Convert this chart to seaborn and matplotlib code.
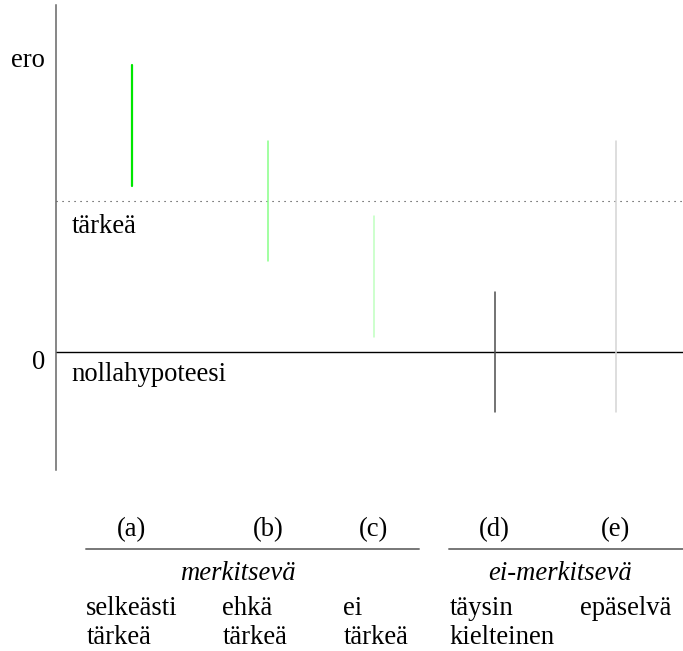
import numpy as np
import pandas as pd
import matplotlib
matplotlib.use("Agg")
import matplotlib.pyplot as plt
import seaborn as sns

# Confidence intervals of the difference for five cases
cases = ["(a)", "(b)", "(c)", "(d)", "(e)"]
case_x = [1.25, 3.5, 5.25, 7.25, 9.25]
lower = [1.1, 0.6, 0.1, -0.4, -0.4]
upper = [1.9, 1.4, 0.9, 0.4, 1.4]
interval_colors = ["#00e600", "#88ff88", "#c0ffc0", "#4d4d4d", "#d4d4d4"]
interval_widths = [1.6, 1.1, 1.1, 1.1, 1.1]

# Category descriptions under the plot
top_desc = ["selkeästi", "ehkä", "ei", "täysin", "epäselvä"]
bottom_desc = ["tärkeä", "tärkeä", "tärkeä", "kielteinen", ""]
groups = ["merkitsevä", "ei-merkitsevä"]

threshold = 1.0
threshold_label = "tärkeä"
null_label = "nollahypoteesi"
y_ticks = [0, 2]
y_tick_labels = ["0", "ero"]

df = pd.DataFrame({
    "case": np.repeat(cases, 2),
    "x": np.repeat(case_x, 2),
    "y": np.ravel(np.column_stack([lower, upper])),
})

sns.set_theme(style="white")
plt.rcParams["font.family"] = ["Liberation Serif", "DejaVu Serif"]
plt.rcParams["text.color"] = "black"
FS = 19.2

fig = plt.figure(figsize=(6.83, 6.51), dpi=100)
ax = fig.add_axes([56 / 683, 181 / 651, 627 / 683, 465 / 651])

sns.lineplot(data=df, x="x", y="y", hue="case", size="case",
             palette=dict(zip(cases, interval_colors)),
             sizes=dict(zip(cases, interval_widths)),
             estimator=None, sort=False, legend=False, ax=ax)

ax.set_xlim(0, 627 / 60.5)
ax.set_ylim(-118 / 151, 347 / 151)
ax.set_xlabel("")
ax.set_ylabel("")
ax.set_xticks([])
ax.set_yticks([])

for side in ["top", "right", "bottom"]:
    ax.spines[side].set_visible(False)
ax.spines["left"].set_color("#666666")
ax.spines["left"].set_linewidth(1.1)

# Null hypothesis and importance threshold
ax.axhline(0, color="black", lw=1.0, zorder=1)
ax.axhline(threshold, color="#333333", lw=0.8, linestyle=(0, (1, 4.4)), zorder=1)
ax.text(0.26, threshold - 0.212, threshold_label, fontsize=FS, va="baseline", ha="left")
ax.text(0.26, -0.192, null_label, fontsize=FS, va="baseline", ha="left")

# Axis labels at the left
for yv, lab in zip(y_ticks, y_tick_labels):
    ax.text(-0.18, yv - 0.113, lab, fontsize=FS, va="baseline", ha="right", clip_on=False)

# Case letters
for xv, lab in zip(case_x, cases):
    ax.text(xv, -1.219, lab, fontsize=FS, va="baseline", ha="center", clip_on=False)

# Group rules and names
ax.plot([0.5, 6.0], [-1.305, -1.305], color="#777777", lw=1.4, clip_on=False)
ax.plot([6.5, 627 / 60.5], [-1.305, -1.305], color="#777777", lw=1.4, clip_on=False)
for xv, lab in zip([3.0, 8.33], groups):
    ax.text(xv, -1.51, lab, fontsize=FS, style="italic", va="baseline", ha="center", clip_on=False)

# Descriptions
desc_x = [0.5, 2.75, 4.75, 6.5, 8.66]
for xv, t1, t2 in zip(desc_x, top_desc, bottom_desc):
    ax.text(xv, -1.742, t1, fontsize=FS, va="baseline", ha="left", clip_on=False)
    ax.text(xv, -1.934, t2, fontsize=FS, va="baseline", ha="left", clip_on=False)

fig.savefig("out.png", dpi=100)
